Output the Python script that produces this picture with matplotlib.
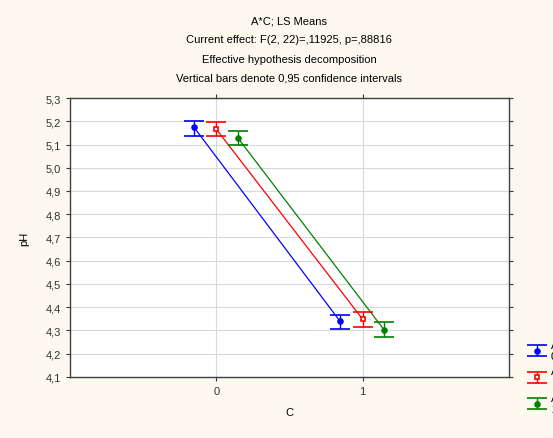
import numpy as np
import matplotlib.pyplot as plt
from matplotlib.ticker import FuncFormatter

plt.rcParams['font.family'] = ['Liberation Sans', 'DejaVu Sans']
plt.rcParams['font.size'] = 8

# LS means of pH for each level of A at C = 0 and C = 1
c_levels = [0, 1]
a_levels = ['0', '1', '2']
means = {
    '0': [5.176, 4.340],
    '1': [5.166, 4.348],
    '2': [5.130, 4.304],
}
ci_low = {
    '0': [5.135, 4.305],
    '1': [5.135, 4.315],
    '2': [5.098, 4.271],
}
ci_high = {
    '0': [5.200, 4.367],
    '1': [5.198, 4.381],
    '2': [5.160, 4.335],
}
colors = {'0': '#0000ff', '1': '#ff0000', '2': '#008000'}
markers = {'0': 'o', '1': 's', '2': 'o'}
offsets = {'0': -0.155, '1': 0.0, '2': 0.145}

fig = plt.figure(figsize=(5.53, 4.39), dpi=100, facecolor='#fdf9ef')
ax = fig.add_axes([70 / 553, 1 - 378 / 439, 439 / 553, 279 / 439])
ax.set_facecolor('white')

for a in a_levels:
    x = np.array(c_levels) + offsets[a]
    m = np.array(means[a])
    lo = m - np.array(ci_low[a])
    hi = np.array(ci_high[a]) - m
    filled = a != '1'
    ax.plot(x, m, color=colors[a], lw=0.9, zorder=3)
    ax.errorbar(x, m, yerr=[lo, hi], fmt=markers[a], color=colors[a],
                ms=3.5, mfc=colors[a] if filled else 'white', mec=colors[a], mew=1.2,
                ecolor=colors[a], elinewidth=1.0, capsize=7, capthick=1.0,
                label='A\n' + a, zorder=4)

ax.set_xlim(-1, 2)
ax.set_ylim(4.1, 5.3)
ax.set_xticks(c_levels)
ax.set_yticks(np.round(np.arange(4.1, 5.31, 0.1), 1))
ax.yaxis.set_major_formatter(FuncFormatter(lambda v, p: f'{v:.1f}'.replace('.', ',')))
ax.grid(True, color='#d8d8d8', lw=0.8)
ax.set_axisbelow(True)
ax.tick_params(direction='out', length=3, width=0.8, top=True, right=True,
               labelsize=8, colors='#333333')
for s in ax.spines.values():
    s.set_color('#404040')
    s.set_linewidth(1.0)

ax.set_xlabel('C', fontsize=8, labelpad=8)
ax.set_ylabel('pH', fontsize=8, labelpad=12)

title_lines = ['A*C; LS Means',
               'Current effect: F(2, 22)=,11925, p=,88816',
               'Effective hypothesis decomposition',
               'Vertical bars denote 0,95 confidence intervals']
for i, t in enumerate(title_lines):
    fig.text(289 / 553, 1 - (21 + i * 19.3) / 439, t, ha='center', va='center', fontsize=8)

# legend sits past the right edge of the plot, partly outside the figure
leg = ax.legend(loc='upper left', bbox_to_anchor=(1.03, 0.15), frameon=False,
                fontsize=8, handlelength=1.8, handletextpad=0.4, labelspacing=0.45,
                borderaxespad=0)

fig.savefig('out.png', dpi=100, facecolor=fig.get_facecolor())
